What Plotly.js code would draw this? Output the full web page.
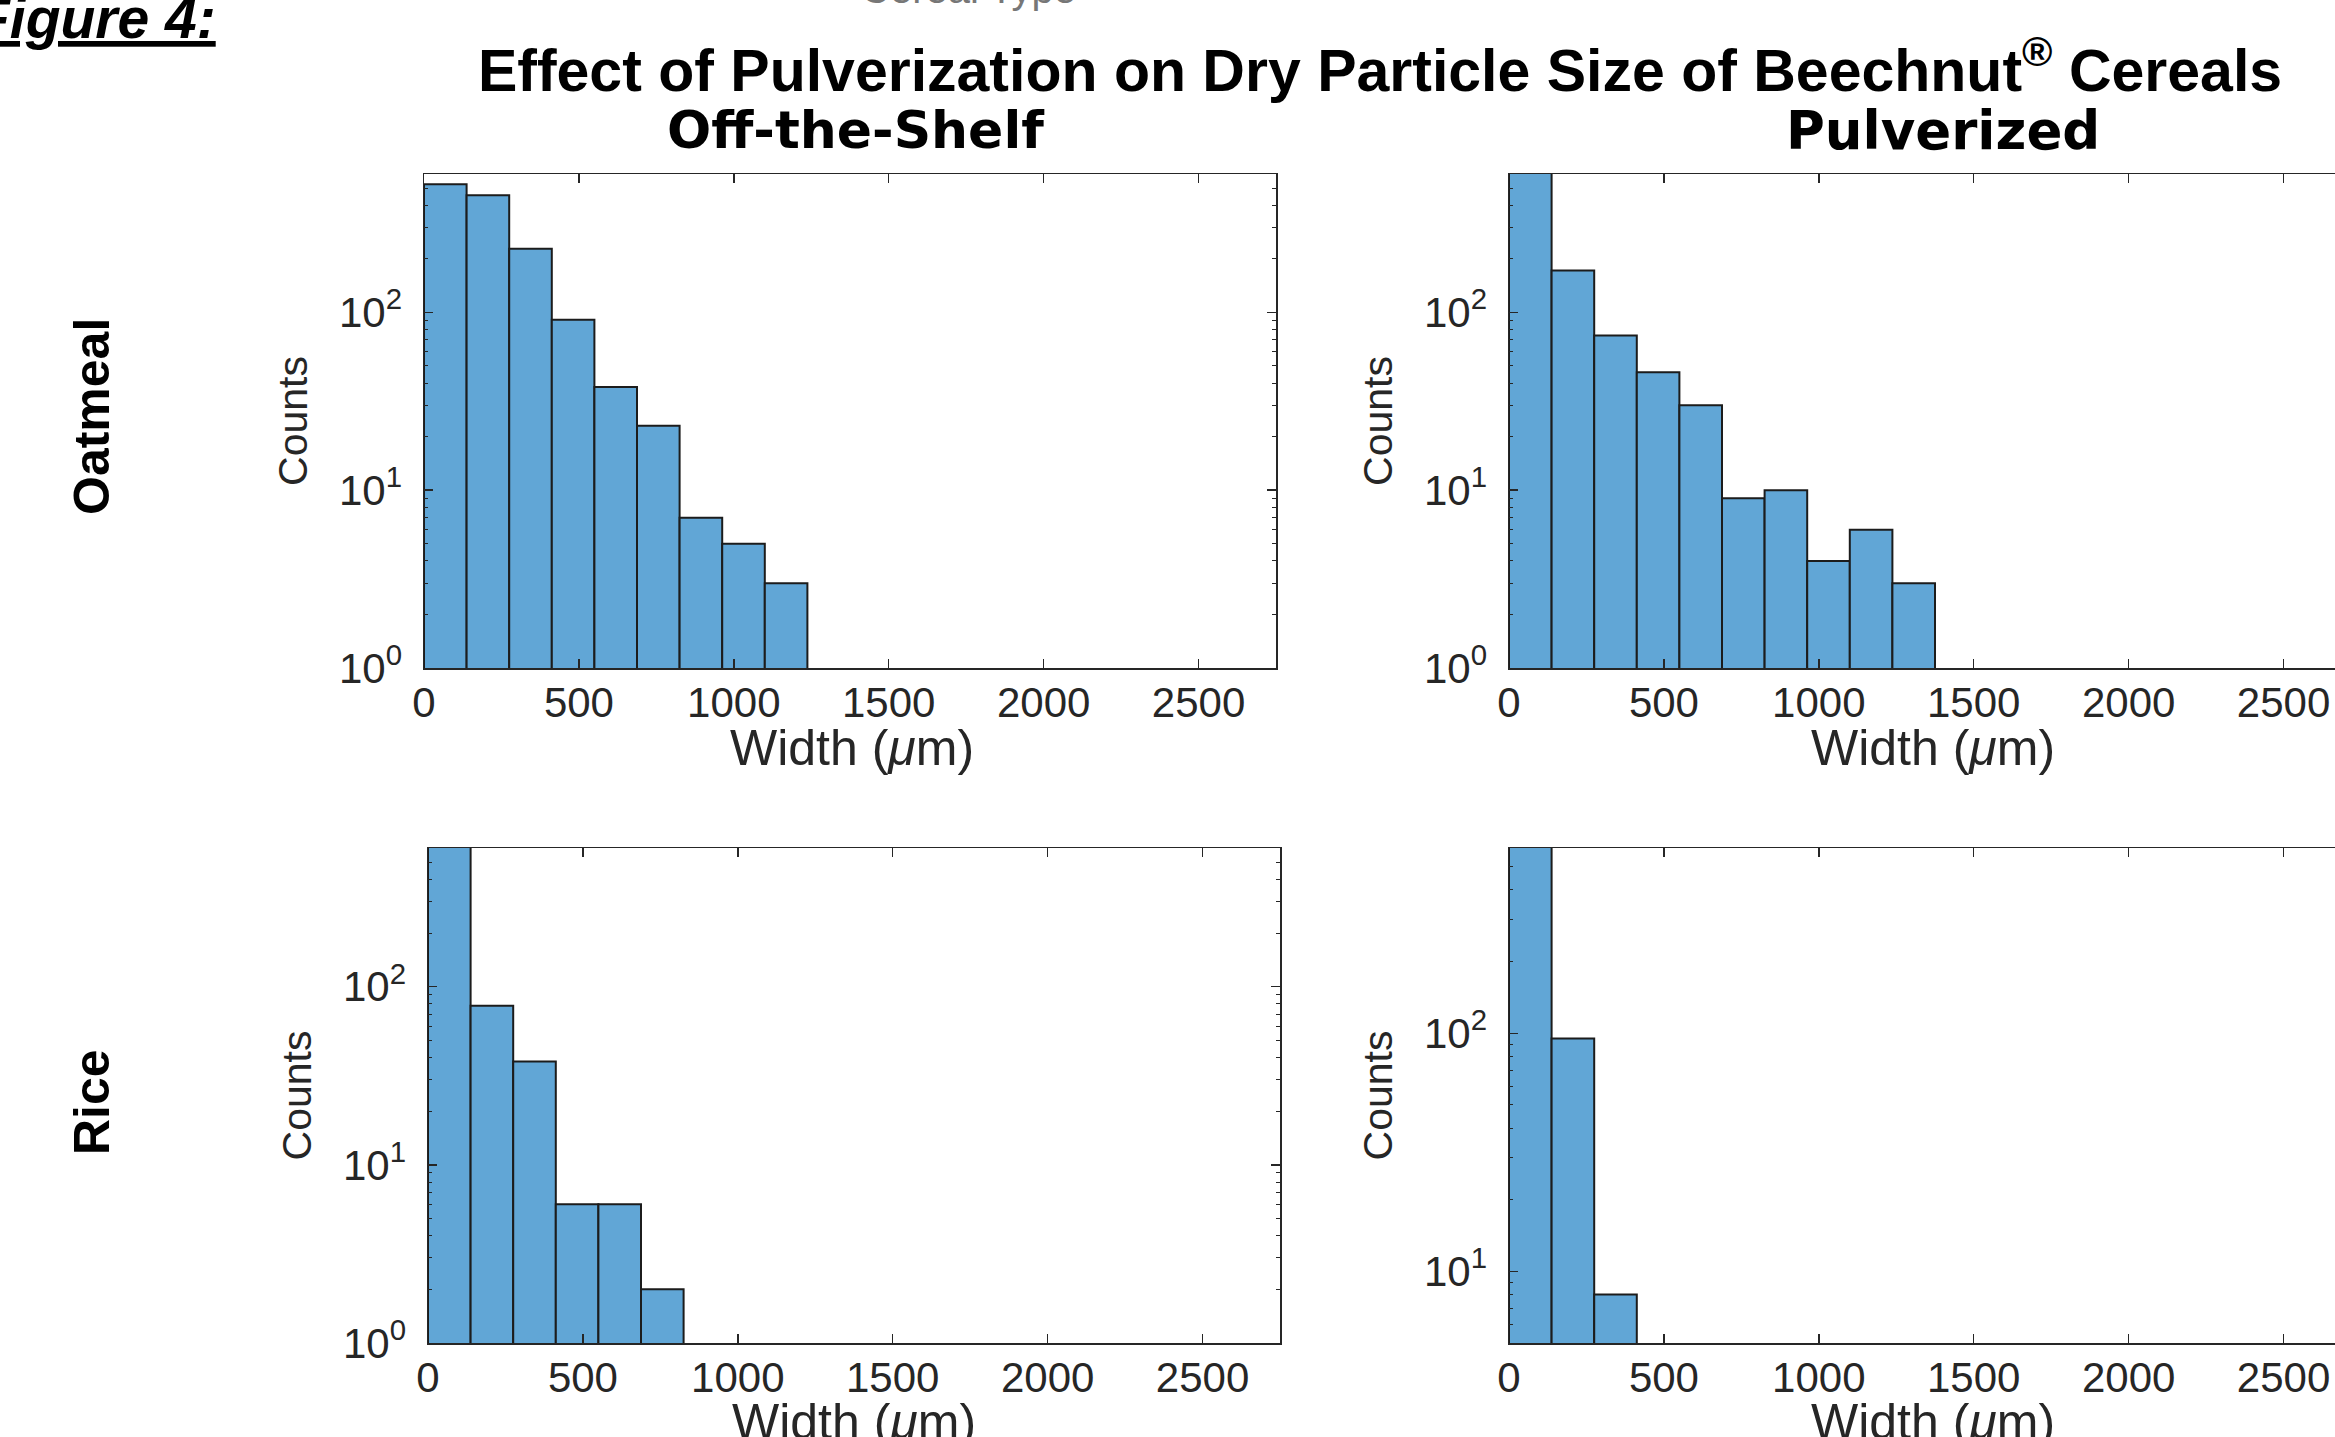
<!DOCTYPE html>
<html>
<head>
<meta charset="utf-8">
<script src="https://cdn.plot.ly/plotly-3.0.1.min.js"></script>
<style>html,body{margin:0;padding:0;background:#fff;}#chart{width:2335px;height:1437px;}</style>
</head>
<body>
<div id="chart"></div>
<script>
// ---- data ----
const binEdgesUm = [0, 137.5, 275, 412.5, 550, 687.5, 825, 962.5, 1100, 1237.5, 1375];
const oatmealOffShelfCounts = [525, 455, 228, 91, 38, 23, 7, 5, 3];
const oatmealPulverizedCounts = [800, 172, 74, 46, 30, 9, 10, 4, 6, 3];
const riceOffShelfCounts = [700, 78, 38, 6, 6, 2];
const ricePulverizedCounts = [900, 95, 8];
const xTickVals = [0, 500, 1000, 1500, 2000, 2500];
const xTickText = ['0', '500', '1000', '1500', '2000', '2500'];
const yTickValsFull = [1, 10, 100];
const yTickTextFull = ['10<sup>0</sup>', '10<sup>1</sup>', '10<sup>2</sup>'];
const yTickValsRicePulv = [10, 100];
const yTickTextRicePulv = ['10<sup>1</sup>', '10<sup>2</sup>'];
const columnTitles = ['Off-the-Shelf', 'Pulverized'];
const rowTitles = ['Oatmeal', 'Rice'];
const xTitleText = 'Width (<i>μ</i>m)';

// ---- layout helpers ----
const W = 2335, H = 1437;
const px = v => v / W;
const py = v => 1 - v / H;
const YMAX = 600;
const xFullSpan = 2750;           // visible x-range of a full panel
const panelW = 852;               // px width of a full panel

function binsFor(counts) {
  const x = [], w = [];
  for (let i = 0; i < counts.length; i++) {
    x.push((binEdgesUm[i] + binEdgesUm[i + 1]) / 2);
    w.push(binEdgesUm[i + 1] - binEdgesUm[i]);
  }
  return {x, w};
}
function minorLog(lo, hi) {
  const v = [];
  for (let d = 1; d <= 1000; d *= 10) for (let k = 2; k <= 9; k++) { const t = d * k; if (t > lo && t < hi) v.push(t); }
  return v;
}
const AX = '#262626';
const tickFont = {family: 'Liberation Sans, Arial, sans-serif', size: 42, color: AX};
function xAxis(domain, rangeMax, anchor) {
  return {
    domain: domain, range: [0, rangeMax], anchor: anchor,
    tickmode: 'array', tickvals: xTickVals, ticktext: xTickText,
    ticks: 'inside', ticklen: 9, tickwidth: 1.5, tickcolor: AX,
    showline: true, linecolor: AX, linewidth: 1.5, mirror: 'ticks',
    showgrid: false, zeroline: false, tickfont: tickFont, ticklabelstandoff: -3,
    fixedrange: true
  };
}
function yAxis(domain, lo, tv, tt, anchor, mirror) {
  return {
    type: 'log', domain: domain, range: [Math.log10(lo), Math.log10(YMAX)], anchor: anchor,
    tickmode: 'array', tickvals: tv, ticktext: tt,
    ticks: 'inside', ticklen: 9, tickwidth: 1.5, tickcolor: AX,
    minor: {tickmode: 'array', tickvals: minorLog(lo, YMAX), ticks: 'inside', ticklen: 4, tickwidth: 1, tickcolor: AX, showgrid: false},
    showline: true, linecolor: AX, linewidth: 1.5, mirror: mirror,
    showgrid: false, zeroline: false, tickfont: tickFont, ticklabelstandoff: 12,
    title: {text: 'Counts', font: {family: 'Liberation Sans, Arial, sans-serif', size: 41, color: AX}, standoff: 18},
    fixedrange: true
  };
}

const barStyle = {color: 'rgb(97,166,214)', line: {color: '#1c1c1c', width: 2}};
function barTrace(counts, xa, ya) {
  const b = binsFor(counts);
  return {type: 'bar', x: b.x, y: counts, width: b.w, marker: barStyle, xaxis: xa, yaxis: ya, showlegend: false, hoverinfo: 'skip'};
}

const data = [
  barTrace(oatmealOffShelfCounts, 'x', 'y'),
  barTrace(oatmealPulverizedCounts, 'x2', 'y2'),
  barTrace(riceOffShelfCounts, 'x3', 'y3'),
  barTrace(ricePulverizedCounts, 'x4', 'y4')
];

const rightRange = (W - 1509) / (panelW / xFullSpan);

const annFont = {family: 'DejaVu Sans, sans-serif', size: 52, color: '#000', weight: 'bold'};
const rowFont = {family: 'Liberation Sans, Arial, sans-serif', size: 50, color: '#000', weight: 'bold'};
const xTitleFont = {family: 'Liberation Sans, Arial, sans-serif', size: 50, color: AX};

function xTitle(cx, cy) {
  return {text: xTitleText, x: px(cx), y: py(cy), xref: 'paper', yref: 'paper', xanchor: 'center', yanchor: 'middle', showarrow: false, font: xTitleFont};
}

const layout = {
  width: W, height: H,
  margin: {l: 0, r: 0, t: 0, b: 0},
  paper_bgcolor: '#fff', plot_bgcolor: '#fff',
  title: {
    text: 'Effect of Pulverization on Dry Particle Size of Beechnut<sup>®</sup> Cereals',
    font: {family: 'Liberation Sans, Arial, sans-serif', size: 59, color: '#000', weight: 'bold'},
    x: 1380 / W, xanchor: 'center', xref: 'paper',
    y: 1 - 70 / H, yanchor: 'middle', yref: 'container'
  },
  xaxis: xAxis([px(424), px(1276)], xFullSpan, 'y'),
  yaxis: yAxis([py(668), py(174)], 1, yTickValsFull, yTickTextFull, 'x', 'ticks'),
  xaxis2: xAxis([px(1509), 1], rightRange, 'y2'),
  yaxis2: yAxis([py(668), py(174)], 1, yTickValsFull, yTickTextFull, 'x2', false),
  xaxis3: xAxis([px(428), px(1280)], xFullSpan, 'y3'),
  yaxis3: yAxis([py(1343), py(848)], 1, yTickValsFull, yTickTextFull, 'x3', 'ticks'),
  xaxis4: xAxis([px(1509), 1], rightRange, 'y4'),
  yaxis4: yAxis([py(1343), py(848)], 5, yTickValsRicePulv, yTickTextRicePulv, 'x4', false),
  annotations: [
    {text: columnTitles[0], x: px(856), y: py(130), xref: 'paper', yref: 'paper', xanchor: 'center', yanchor: 'middle', showarrow: false, font: annFont},
    {text: columnTitles[1], x: px(1943), y: py(130), xref: 'paper', yref: 'paper', xanchor: 'center', yanchor: 'middle', showarrow: false, font: {family: annFont.family, size: 53, color: '#000', weight: 'bold'}},
    {text: rowTitles[0], x: px(92), y: py(417), xref: 'paper', yref: 'paper', xanchor: 'center', yanchor: 'middle', textangle: -90, showarrow: false, font: rowFont},
    {text: rowTitles[1], x: px(92), y: py(1102), xref: 'paper', yref: 'paper', xanchor: 'center', yanchor: 'middle', textangle: -90, showarrow: false, font: rowFont},
    xTitle(852, 748),
    xTitle(1933, 748),
    xTitle(854, 1422),
    xTitle(1933, 1422),
    {text: '<b><i><u>Figure 4:</u></i></b>', x: px(218), y: py(52), xref: 'paper', yref: 'paper', xanchor: 'right', yanchor: 'bottom', showarrow: false,
     font: {family: 'Liberation Sans, Arial, sans-serif', size: 57, color: '#000'}},
    {text: 'Cereal Type', x: px(968), y: py(13), xref: 'paper', yref: 'paper', xanchor: 'center', yanchor: 'bottom', showarrow: false,
     font: {family: 'Liberation Sans, Arial, sans-serif', size: 40, color: '#777'}}
  ]
};

Plotly.newPlot('chart', data, layout, {displayModeBar: false, staticPlot: true});
</script>
</body>
</html>
